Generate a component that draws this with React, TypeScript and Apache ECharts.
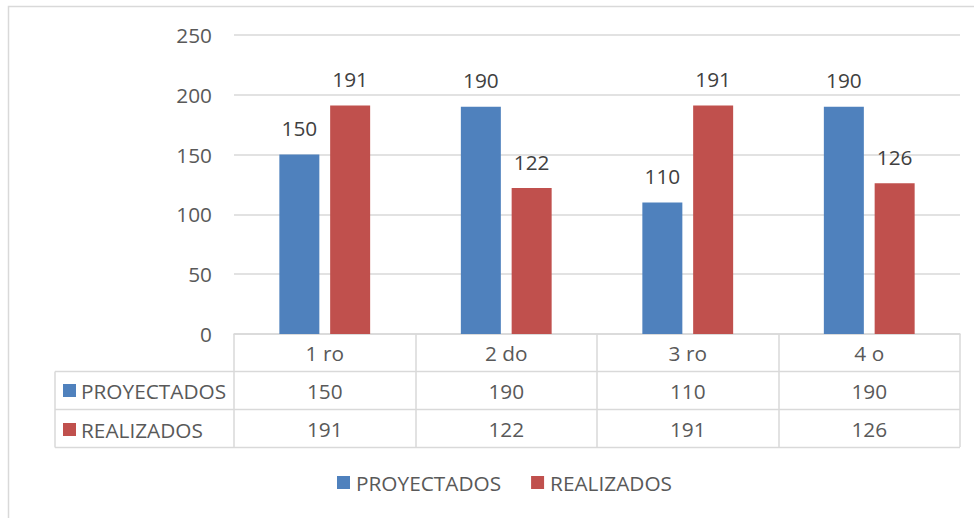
import React, { useEffect, useRef } from "react";
import * as echarts from "echarts";

const categories = ["1 ro", "2 do", "3 ro", "4 o"];
const proyectados = [150, 190, 110, 190];
const realizados = [191, 122, 191, 126];
const seriesNames = ["PROYECTADOS", "REALIZADOS"];
const yTicks = { min: 0, max: 250, interval: 50 };

const FONT = "'Open Sans', 'Liberation Sans', sans-serif";
const TXT = "#595959";
const LINE = "#d9d9d9";
const FS = 20.8;

export default function App() {
  const ref = useRef<HTMLDivElement>(null);
  useEffect(() => {
    if (!ref.current) return;
    const chart = echarts.init(ref.current, null, { renderer: "svg" });
    const rowLines = [371.5, 409.5, 447.5];
    chart.setOption({
      animation: false,
      backgroundColor: "#ffffff",
      textStyle: { fontFamily: FONT },
      color: ["#4f81bd", "#c0504d"],
      grid: { left: 234, right: 14, top: 35, bottom: 184, containLabel: false },
      legend: [
        {
          data: seriesNames,
          orient: "horizontal",
          left: 337,
          top: 472,
          padding: 0,
          itemWidth: 13,
          itemHeight: 13,
          itemGap: 30,
          icon: "rect",
          textStyle: { color: TXT, fontSize: FS, lineHeight: 20, fontFamily: FONT, padding: [0, 0, 0, 1] },
        },
        {
          data: seriesNames,
          orient: "vertical",
          left: 63,
          top: 380,
          padding: 0,
          itemWidth: 13,
          itemHeight: 13,
          itemGap: 18,
          icon: "rect",
          selectedMode: false,
          textStyle: { color: TXT, fontSize: FS, lineHeight: 20, fontFamily: FONT },
        },
      ],
      xAxis: {
        type: "category",
        data: categories,
        axisLine: { show: true, lineStyle: { color: LINE, width: 1.5 } },
        axisTick: { show: true, length: 113, lineStyle: { color: LINE, width: 1.5 }, interval: 0 },
        axisLabel: {
          interval: 0,
          margin: 0,
          formatter: (value: string, index: number) =>
            `{a|${value}}\n{a|${proyectados[index]}}\n{a|${realizados[index]}}`,
          rich: {
            a: { fontSize: FS, lineHeight: 37.8, color: TXT, fontFamily: FONT, align: "center" },
          },
        },
      },
      yAxis: {
        type: "value",
        min: yTicks.min,
        max: yTicks.max,
        interval: yTicks.interval,
        axisLine: { show: false },
        axisTick: { show: false },
        axisLabel: { color: TXT, fontSize: FS, margin: 22, fontFamily: FONT },
        splitLine: { lineStyle: { color: LINE, width: 1.5 } },
      },
      series: [
        {
          name: seriesNames[0],
          type: "bar",
          data: proyectados,
          barWidth: 40,
          barGap: "27%",
          label: { show: true, position: "top", distance: 16, color: "#404040", fontSize: FS, fontFamily: FONT },
        },
        {
          name: seriesNames[1],
          type: "bar",
          data: realizados,
          barWidth: 40,
          barGap: "27%",
          label: { show: true, position: "top", distance: 16, color: "#404040", fontSize: FS, fontFamily: FONT },
        },
      ],
      graphic: [
        {
          type: "rect",
          silent: true,
          shape: { x: 8.5, y: 6.5, width: 1000, height: 600 },
          style: { fill: "none", stroke: LINE, lineWidth: 1.5 },
        },
        ...rowLines.map((y) => ({
          type: "line",
          silent: true,
          shape: { x1: 55, y1: y, x2: 960, y2: y },
          style: { stroke: LINE, lineWidth: 1.5 },
        })),
        {
          type: "line",
          silent: true,
          shape: { x1: 55, y1: rowLines[0], x2: 55, y2: rowLines[2] },
          style: { stroke: LINE, lineWidth: 1.5 },
        },
      ],
    });
    return () => chart.dispose();
  }, []);
  return (
    <div
      ref={ref}
      style={{ position: "fixed", left: 0, top: 0, width: 974, height: 518 }}
    />
  );
}
